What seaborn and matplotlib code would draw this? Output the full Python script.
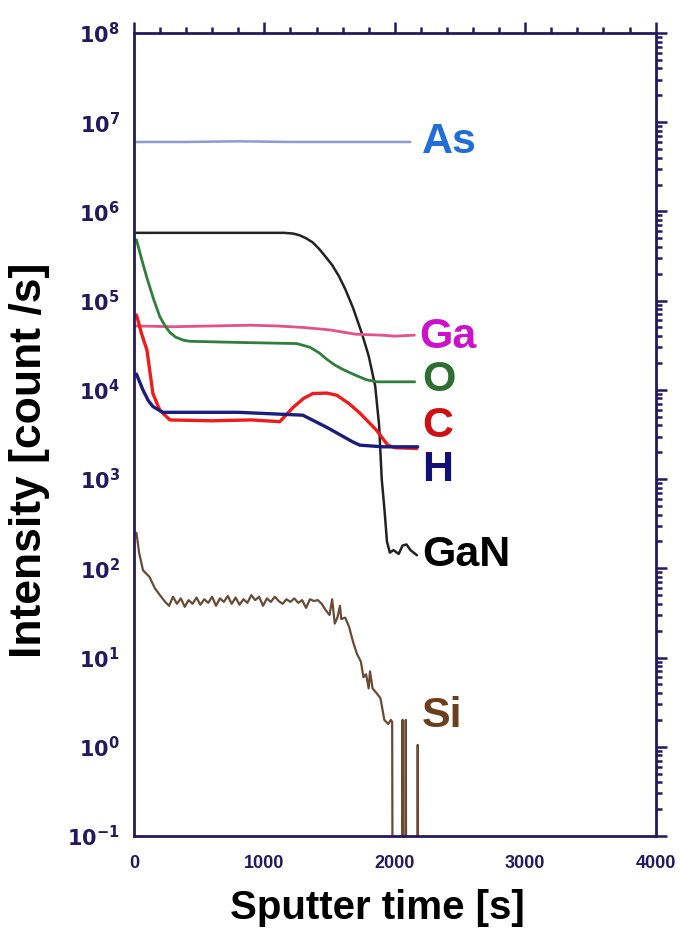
import numpy as np
import pandas as pd
import matplotlib
matplotlib.use("Agg")
import matplotlib.pyplot as plt
import seaborn as sns
from matplotlib.ticker import LogLocator, MultipleLocator, FixedLocator, NullFormatter

# ---- data ----
as_x = [20, 400, 800, 1200, 1600, 2000, 2120]
as_y = [6.0e6, 6.0e6, 6.1e6, 6.0e6, 6.0e6, 6.0e6, 6.0e6]

gan_x = [20, 600, 1150, 1220, 1270, 1320, 1370, 1420, 1470, 1520, 1570, 1620, 1680, 1750,
         1800, 1850, 1880, 1900, 1923, 1940, 1962, 1990, 2030, 2060, 2090, 2120, 2170]
gan_y = [5.75e5, 5.75e5, 5.75e5, 5.65e5, 5.4e5, 5.0e5, 4.5e5, 3.8e5, 3.1e5, 2.5e5,
         1.9e5, 1.35e5, 8.3e4, 4.2e4, 2.4e4, 1.1e4, 4.0e3, 1.0e3, 4.2e2, 2.0e2,
         1.5e2, 1.6e2, 1.45e2, 1.8e2, 1.85e2, 1.6e2, 1.4e2]

ga_x = [20, 300, 600, 900, 1100, 1300, 1500, 1700, 1900, 2000, 2150]
ga_y = [5.2e4, 5.1e4, 5.2e4, 5.3e4, 5.2e4, 5.0e4, 4.7e4, 4.2e4, 4.1e4, 4.0e4, 4.1e4]

o_x = [20, 60, 100, 150, 199, 240, 276, 320, 380, 429, 800, 1249, 1350, 1420, 1479,
       1540, 1600, 1680, 1780, 1862, 2153]
o_y = [4.8e5, 2.9e5, 1.8e5, 1.05e5, 6.6e4, 5.2e4, 4.4e4, 3.9e4, 3.6e4, 3.5e4, 3.4e4,
       3.3e4, 3.0e4, 2.6e4, 2.2e4, 1.9e4, 1.7e4, 1.5e4, 1.3e4, 1.23e4, 1.23e4]

c_x = [20, 60, 100, 146, 199, 276, 600, 900, 1119, 1218, 1300, 1372, 1479, 1556, 1650,
       1732, 1862, 1946, 2000, 2168]
c_y = [6.9e4, 4.2e4, 2.8e4, 9.1e3, 5.9e3, 4.6e3, 4.5e3, 4.6e3, 4.4e3, 6.3e3, 8.0e3,
       9.1e3, 9.2e3, 8.7e3, 7.0e3, 5.5e3, 3.5e3, 2.4e3, 2.25e3, 2.2e3]

h_x = [20, 69, 110, 146, 222, 800, 1295, 1479, 1680, 1732, 1908, 2176]
h_y = [1.5e4, 1.0e4, 7.6e3, 6.5e3, 5.6e3, 5.6e3, 5.2e3, 3.8e3, 2.6e3, 2.4e3, 2.3e3, 2.3e3]

si_x = [20, 40, 70, 120, 160, 200, 240, 270, 300, 330, 360, 390, 420, 450, 480, 510,
        540, 570, 600, 630, 660, 690, 720, 750, 780, 810, 840, 870, 900, 930, 960,
        990, 1020, 1050, 1080, 1110, 1140, 1170, 1200, 1230, 1260, 1290, 1320, 1350,
        1380, 1410, 1440, 1470, 1500, 1520, 1540, 1560, 1580, 1590, 1620, 1650, 1680,
        1710, 1740, 1760, 1780, 1800, 1810, 1830, 1860, 1890, 1920, 1950, 1970, 1980,
        1985, 2055, 2060, 2066, 2078, 2084, 2090, 2170, 2176, 2182]
si_y = [250, 150, 95, 80, 60, 50, 42, 38, 48, 40, 46, 37, 44, 40, 47, 39,
        45, 41, 48, 38, 46, 42, 49, 40, 47, 39, 45, 41, 50, 44, 48,
        38, 46, 42, 48, 43, 40, 45, 42, 46, 41, 44, 36, 45,
        43, 44, 40, 34, 30, 45, 24, 28, 38, 27, 28, 22, 15,
        11, 9, 6, 6.5, 4.5, 7, 4.5, 4, 3.5, 2, 1.8, 2, 1.9,
        1e-3, 1e-3, 2.0, 1e-3, 1e-3, 2.0, 1e-3, 1e-3, 1.05, 1e-3]

y_ticks = [1e-1, 1e0, 1e1, 1e2, 1e3, 1e4, 1e5, 1e6, 1e7, 1e8]
y_ticklabels = [r"$10^{-1}$", r"$10^{0}$", r"$10^{1}$", r"$10^{2}$", r"$10^{3}$",
                r"$10^{4}$", r"$10^{5}$", r"$10^{6}$", r"$10^{7}$", r"$10^{8}$"]
x_ticks = [0, 1000, 2000, 3000, 4000]
x_ticklabels = ["0", "1000", "2000", "3000", "4000"]

series = [
    ("As", as_x, as_y, "#8e9ad6", "#1f6fd6", 6.78, 1.8),
    ("GaN", gan_x, gan_y, "#222222", "#000000", 2.15, 1.8),
    ("Ga", ga_x, ga_y, "#e4508a", "#cc11cc", 4.59, 2.0),
    ("O", o_x, o_y, "#2f7f3a", "#2e6e32", 4.11, 2.0),
    ("C", c_x, c_y, "#ee1c1c", "#d01010", 3.6, 2.4),
    ("H", h_x, h_y, "#1c1c7a", "#101078", 3.1, 2.4),
    ("Si", si_x, si_y, "#6b4a35", "#6b3f1c", 0.35, 1.6),
]

sns.set_style("white")
plt.rcParams['font.family'] = ['Liberation Sans', 'DejaVu Sans']
plt.rcParams['mathtext.default'] = 'bf'

fig = plt.figure(figsize=(6.83, 9.41), dpi=100)
ax = fig.add_axes([0.196, 0.1116, 0.764, 0.8534])
ax.set_yscale("log", nonpositive="clip")

navy = "#24185e"
for name, xs, ys, lc, tc, ylab, lw in series:
    df = pd.DataFrame({"t": xs, "v": ys})
    sns.lineplot(data=df, x="t", y="v", ax=ax, color=lc, linewidth=lw,
                 estimator=None, sort=False)
    ax.text(2210 if name != "Ga" else 2185, 10 ** ylab, name, color=tc,
            fontsize=31, fontweight="bold", ha="left", va="center")

ax.set_xlim(0, 4000)
ax.set_ylim(1e-1, 1e8)

ax.xaxis.set_major_locator(FixedLocator(x_ticks))
ax.set_xticklabels(x_ticklabels, fontweight="bold")
ax.xaxis.set_minor_locator(MultipleLocator(200))
ax.yaxis.set_major_locator(FixedLocator(y_ticks))
ax.set_yticklabels(y_ticklabels)
ax.yaxis.set_minor_locator(LogLocator(base=10, subs=np.arange(2, 10)))
ax.yaxis.set_minor_formatter(NullFormatter())

for sp in ax.spines.values():
    sp.set_color(navy)
    sp.set_linewidth(2)

ax.tick_params(which="both", direction="out", top=True, right=True,
               color=navy, width=1.8, labelcolor=navy)
ax.tick_params(which="major", length=8)
ax.tick_params(which="minor", length=4)
ax.tick_params(axis="y", labelsize=15, pad=2)
ax.tick_params(axis="x", labelsize=13, pad=6)

ax.set_xlabel("Sputter time [s]", fontsize=29, fontweight="bold", color="black")
ax.xaxis.set_label_coords(0.467, -0.066)
ax.set_ylabel("Intensity [count /s]", fontsize=32, fontweight="bold", color="black")
ax.yaxis.set_label_coords(-0.16, 0.468)

fig.savefig("out.png", dpi=100)
